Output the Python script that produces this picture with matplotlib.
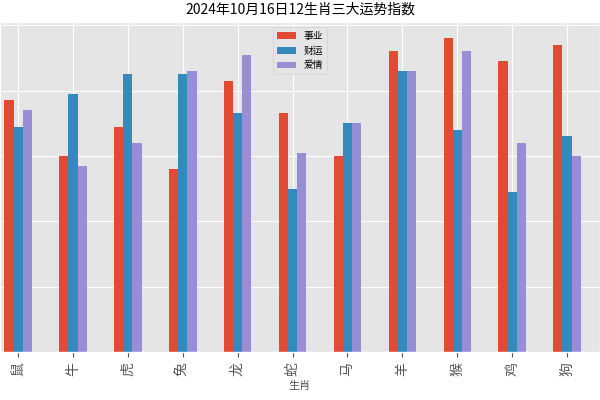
import matplotlib
matplotlib.use("Agg")
import matplotlib.pyplot as plt
import numpy as np

plt.style.use("ggplot")
plt.rcParams["font.family"] = "sans-serif"
plt.rcParams["font.sans-serif"] = ["Noto Sans CJK SC", "Noto Sans CJK JP", "DejaVu Sans"]
plt.rcParams["axes.unicode_minus"] = False

animals = ["鼠", "牛", "虎", "兔", "龙", "蛇", "马", "羊", "猴", "鸡", "狗"]
career = [77, 60, 69, 56, 83, 73, 60, 92, 96, 89, 94]
wealth = [69, 79, 85, 85, 73, 50, 70, 86, 68, 49, 66]
love = [74, 57, 64, 86, 91, 61, 70, 86, 92, 64, 60]

fig = plt.figure(figsize=(6, 4), dpi=100)
ax = fig.add_axes([0.0, 0.12, 1.0, 0.825])
x = np.arange(len(animals))
w = 0.5 / 3
ax.bar(x - w, career, w, label="事业", color="#E24A33")
ax.bar(x, wealth, w, label="财运", color="#348ABD")
ax.bar(x + w, love, w, label="爱情", color="#988ED5")
ax.set_xticks(x)
ax.set_xticklabels(animals, rotation=90, fontsize=10)
ax.set_xlim(-0.33, 10.6)
ax.set_ylim(0, 101)
ax.set_yticks([0, 20, 40, 60, 80, 100])
ax.set_yticklabels([])
ax.set_xlabel("生肖", fontsize=8)
ax.set_title("2024年10月16日12生肖三大运势指数", fontsize=10)
ax.legend(loc="upper center", fontsize=7)
fig.savefig("out.png")
